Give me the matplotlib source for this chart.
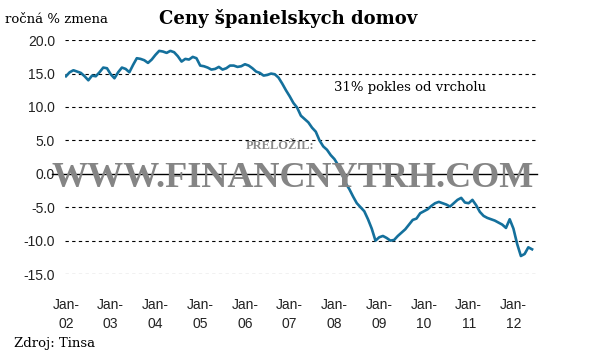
import numpy as np
import matplotlib.pyplot as plt

# yearly % change of Spanish house prices, monthly from Jan-2002 to Jun-2012
y2002 = [14.6, 15.2, 15.5, 15.3, 15.1, 14.6, 14.0, 14.7, 14.6, 15.2, 15.9, 15.8]
y2003 = [14.9, 14.3, 15.2, 15.9, 15.7, 15.2, 16.3, 17.3, 17.2, 17.0, 16.6, 17.1]
y2004 = [17.8, 18.4, 18.3, 18.1, 18.4, 18.2, 17.6, 16.8, 17.2, 17.1, 17.5, 17.3]
y2005 = [16.2, 16.1, 15.9, 15.6, 15.7, 16.0, 15.6, 15.8, 16.2, 16.2, 16.0, 16.1]
y2006 = [16.4, 16.2, 15.8, 15.3, 15.1, 14.7, 14.8, 15.0, 14.9, 14.4, 13.5, 12.5]
y2007 = [11.6, 10.6, 9.9, 8.7, 8.2, 7.7, 6.9, 6.3, 5.0, 4.1, 3.6, 2.8]
y2008 = [2.2, 1.3, 0.0, -1.4, -2.3, -3.4, -4.4, -5.0, -5.6, -6.8, -8.2, -10.0]
y2009 = [-9.5, -9.3, -9.6, -10.0, -9.9, -9.3, -8.8, -8.3, -7.6, -6.9, -6.7, -5.9]
y2010 = [-5.6, -5.3, -4.8, -4.4, -4.2, -4.4, -4.6, -4.9, -4.4, -3.9, -3.6, -4.3]
y2011 = [-4.4, -3.9, -4.7, -5.7, -6.3, -6.6, -6.8, -7.0, -7.3, -7.6, -8.1, -6.8]
y2012 = [-8.2, -10.5, -12.3, -12.0, -11.0, -11.3]

values = y2002 + y2003 + y2004 + y2005 + y2006 + y2007 + y2008 + y2009 + y2010 + y2011 + y2012
months = np.arange(len(values))

tick_labels = ["Jan-\n02", "Jan-\n03", "Jan-\n04", "Jan-\n05", "Jan-\n06", "Jan-\n07",
               "Jan-\n08", "Jan-\n09", "Jan-\n10", "Jan-\n11", "Jan-\n12"]
y_ticks = [20, 15, 10, 5, 0, -5, -10, -15]

fig = plt.figure(figsize=(6.06, 3.62), dpi=100)
ax = fig.add_axes([0.107, 0.243, 0.779, 0.646])

# dashed grid lines, solid zero line
for yv in y_ticks:
    if yv == 0:
        continue
    ax.axhline(yv, color="black", lw=0.8, ls=(0, (3, 3)), zorder=1)
ax.plot([-0.028, 1], [0, 0], color="black", lw=1.0,
        transform=ax.get_yaxis_transform(), clip_on=False, zorder=3)

ax.plot(months, values, color="#14709c", lw=1.9, zorder=4)

ax.set_xlim(-0.3, 126.3)
ax.set_ylim(-15, 20)
ax.set_yticks(y_ticks)
ax.set_yticklabels([f"{v:.1f}" for v in y_ticks])
ax.set_xticks(np.arange(0, 121, 12))
ax.set_xticklabels(tick_labels)
ax.tick_params(length=0, labelsize=10, labelcolor="#222222")
ax.tick_params(axis="y", pad=7)
ax.tick_params(axis="x", pad=17)
for lab in ax.get_xticklabels() + ax.get_yticklabels():
    lab.set_fontfamily("Liberation Sans")
    lab.set_linespacing(1.45)
for s in ax.spines.values():
    s.set_visible(False)
ax.patch.set_visible(False)

# texts
fig.text(0.476, 0.95, "Ceny španielskych domov", ha="center", va="center",
         fontsize=13, fontweight="bold", family="DejaVu Serif")
fig.text(0.008, 0.946, "ročná % zmena", ha="left", va="center",
         fontsize=9.5, family="DejaVu Serif")
fig.text(0.551, 0.757, "31% pokles od vrcholu", ha="left", va="center",
         fontsize=9.5, family="DejaVu Serif")
fig.text(0.023, 0.052, "Zdroj: Tinsa", ha="left", va="center",
         fontsize=9.5, family="DejaVu Serif")

# watermark
fig.text(0.405, 0.597, "PRELOŽIL:", ha="left", va="center", fontsize=9,
         fontweight="bold", family="Liberation Serif", color="#8a8a8a", zorder=2)
fig.text(0.483, 0.508, "WWW.FINANCNYTRH.COM", ha="center", va="center", fontsize=26,
         fontweight="bold", family="Liberation Serif", color="#858585", zorder=2)

fig.savefig("out.png", dpi=100)
